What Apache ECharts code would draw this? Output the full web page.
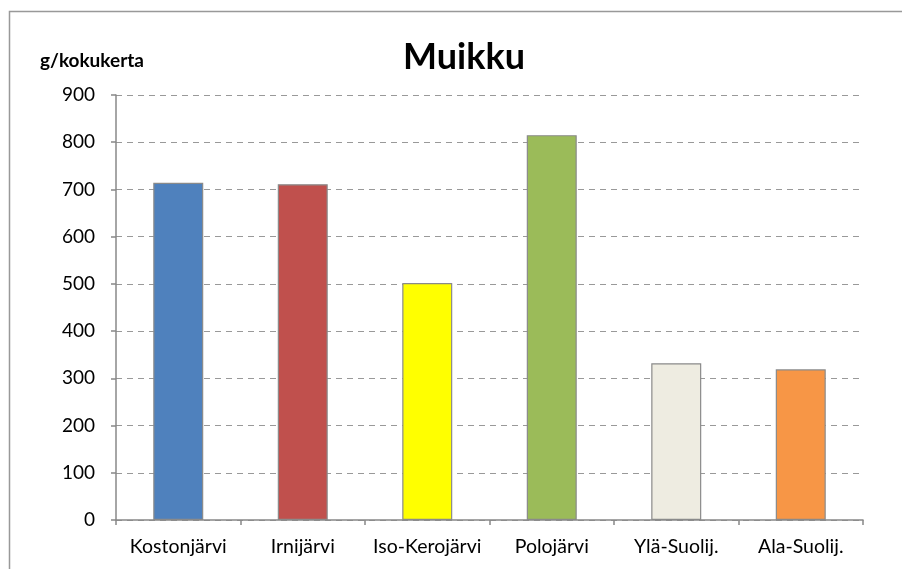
<!DOCTYPE html>
<html style="height: 100%">
   <head>
       <meta charset="utf-8">
   </head>
   <body style="height: 100%; margin: 0; background: #fff">
       <div id="container" style="width: 902px; height: 569px"></div>
       <script type="text/javascript" src="https://cdn.jsdelivr.net/npm/echarts@6/dist/echarts.min.js"></script>
       <script type="text/javascript">
var lakes = ['Kostonjärvi', 'Irnijärvi', 'Iso-Kerojärvi', 'Polojärvi', 'Ylä-Suolij.', 'Ala-Suolij.'];
var grams = [714, 711, 502, 815, 332, 319];
var barColors = ['#4F81BD', '#C0504D', '#FFFF00', '#9BBB59', '#EEECE1', '#F79646'];

var dom = document.getElementById("container");
var myChart = echarts.init(dom);
var font = 'Lato, "Open Sans", sans-serif';

var option = {
    backgroundColor: '#fff',
    animation: false,
    graphic: [{
        type: 'rect',
        shape: { x: 9.5, y: 11.5, width: 900, height: 570 },
        style: { fill: 'none', stroke: '#999', lineWidth: 1.5 },
        silent: true
    }],
    title: {
        text: 'Muikku',
        left: 459,
        top: 34,
        textAlign: 'center',
        textStyle: { fontFamily: font, fontSize: 36, fontWeight: 'bold', color: '#000' }
    },
    grid: { left: 116, right: 39, top: 95, bottom: 49, containLabel: false },
    xAxis: {
        type: 'category',
        data: lakes,
        axisLine: { lineStyle: { color: '#888', width: 1.5 } },
        axisTick: { show: true, interval: 0, length: 5, lineStyle: { color: '#888', width: 1.5 } },
        axisLabel: { interval: 0, hideOverlap: false, color: '#000', fontFamily: font, fontSize: 19.5, margin: 17 }
    },
    yAxis: {
        type: 'value',
        min: 0,
        max: 900,
        interval: 100,
        name: 'g/kokukerta',
        nameLocation: 'end',
        nameGap: 25,
        nameTextStyle: { fontFamily: font, fontSize: 19, fontWeight: 'bold', color: '#000', align: 'left', padding: [0, 0, 0, -76] },
        axisLine: { show: true, lineStyle: { color: '#888', width: 1.5 } },
        axisTick: { show: true, length: 5, lineStyle: { color: '#888', width: 1.5 } },
        axisLabel: { color: '#000', fontFamily: font, fontSize: 19, margin: 21 },
        splitLine: { show: true, lineStyle: { color: '#999', width: 1, type: [6, 5] } }
    },
    series: [{
        type: 'bar',
        barWidth: 50,
        data: grams.map(function (v, i) {
            return { value: v, itemStyle: { color: barColors[i] } };
        }),
        itemStyle: { borderColor: '#8a8a8a', borderWidth: 1.2 }
    }]
};

myChart.setOption(option);
       </script>
   </body>
</html>
